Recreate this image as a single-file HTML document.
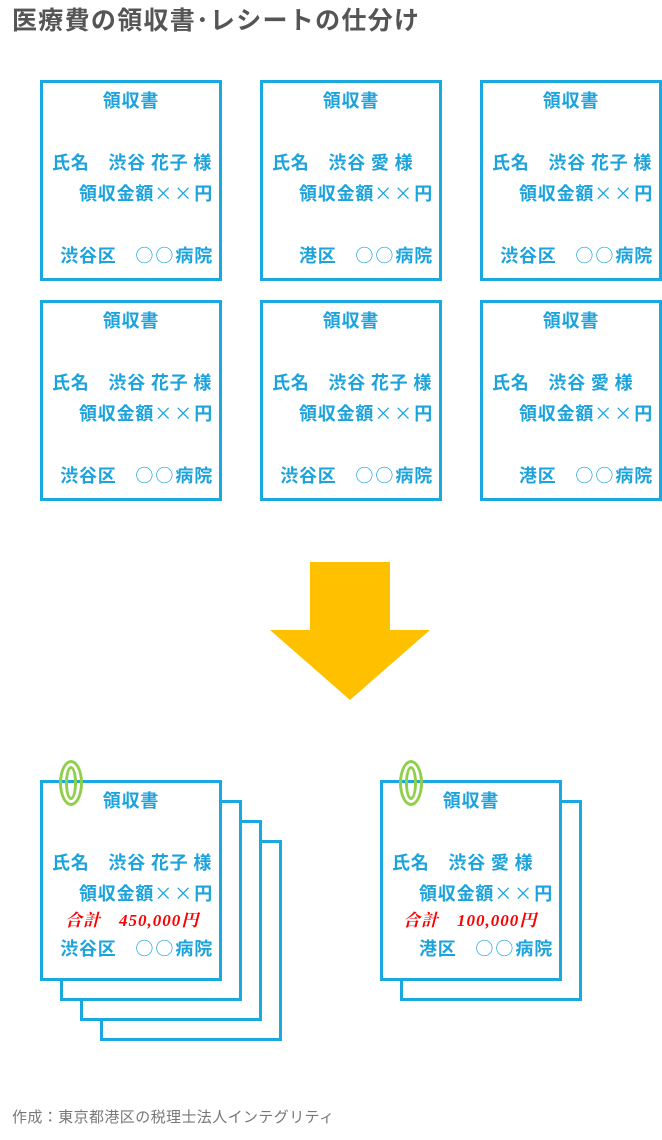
<!DOCTYPE html>
<html><head><meta charset="utf-8"><style>
html,body{margin:0;padding:0;background:#fff;}
body{width:662px;height:1140px;position:relative;overflow:hidden;font-family:"Liberation Sans","Noto Sans CJK JP",sans-serif;}
.t{position:absolute;left:12px;top:3px;font-size:25px;font-weight:bold;color:#555;letter-spacing:1.3px;white-space:nowrap;font-family:"Noto Sans CJK JP",sans-serif;line-height:32px;}
.f{position:absolute;left:12px;top:1106px;font-size:15px;color:#777;letter-spacing:0.4px;white-space:nowrap;line-height:22px;font-family:"Noto Sans CJK JP",sans-serif;}
.card{position:absolute;width:176px;height:195px;border:3px solid #1aa8e0;background:#fff;box-sizing:content-box;}
.card div{position:absolute;font-family:"Noto Sans CJK JP",sans-serif;font-weight:bold;font-size:18px;line-height:22px;color:#1ca3dc;white-space:pre;letter-spacing:0.8px;}
.ti{left:0;right:0;text-align:center;top:6px;}
.nm{left:9px;top:68px;}
.am{right:6px;top:99px;}
.bt{right:6px;top:161px;}
.bt2{right:6px;top:154px;}
.tot{top:127px;color:#f00 !important;font-family:"Liberation Serif","Noto Serif CJK SC",serif !important;font-style:italic;font-size:17px !important;letter-spacing:1px !important;}
.o{font-weight:normal;letter-spacing:2px;}
.clip{position:absolute;width:18px;height:40px;border:3px solid #8fcf4a;border-radius:50%;}
.clip::after{content:"";position:absolute;left:3px;top:3px;width:6px;height:28px;border:3px solid #8fcf4a;border-radius:50%;}
</style></head><body>
<div class="t">医療費の領収書･レシートの仕分け</div>

<div class="card" style="left:40px;top:80px"><div class="ti">領収書</div><div class="nm">氏名　渋谷 花子 様</div><div class="am">領収金額<span class="o">××</span>円</div><div class="bt">渋谷区　<span class="o">○○</span>病院</div></div>
<div class="card" style="left:260px;top:80px"><div class="ti">領収書</div><div class="nm">氏名　渋谷 愛 様</div><div class="am">領収金額<span class="o">××</span>円</div><div class="bt">港区　<span class="o">○○</span>病院</div></div>
<div class="card" style="left:480px;top:80px"><div class="ti">領収書</div><div class="nm">氏名　渋谷 花子 様</div><div class="am">領収金額<span class="o">××</span>円</div><div class="bt">渋谷区　<span class="o">○○</span>病院</div></div>
<div class="card" style="left:40px;top:300px"><div class="ti">領収書</div><div class="nm">氏名　渋谷 花子 様</div><div class="am">領収金額<span class="o">××</span>円</div><div class="bt">渋谷区　<span class="o">○○</span>病院</div></div>
<div class="card" style="left:260px;top:300px"><div class="ti">領収書</div><div class="nm">氏名　渋谷 花子 様</div><div class="am">領収金額<span class="o">××</span>円</div><div class="bt">渋谷区　<span class="o">○○</span>病院</div></div>
<div class="card" style="left:480px;top:300px"><div class="ti">領収書</div><div class="nm">氏名　渋谷 愛 様</div><div class="am">領収金額<span class="o">××</span>円</div><div class="bt">港区　<span class="o">○○</span>病院</div></div>

<svg style="position:absolute;left:0;top:0" width="662" height="1140">
<rect x="310" y="562" width="80" height="70" fill="#ffc000"/>
<polygon points="270,630 430,630 350,700" fill="#ffc000"/>
</svg>

<div class="card" style="left:100px;top:840px"></div>
<div class="card" style="left:80px;top:820px"></div>
<div class="card" style="left:60px;top:800px"></div>
<div class="card" style="left:40px;top:780px"><div class="ti">領収書</div><div class="nm">氏名　渋谷 花子 様</div><div class="am">領収金額<span class="o">××</span>円</div><div class="tot" style="left:22px">合計　450,000円</div><div class="bt2">渋谷区　<span class="o">○○</span>病院</div></div>
<div class="clip" style="left:59px;top:760px"></div>

<div class="card" style="left:400px;top:800px"></div>
<div class="card" style="left:380px;top:780px"><div class="ti">領収書</div><div class="nm">氏名　渋谷 愛 様</div><div class="am">領収金額<span class="o">××</span>円</div><div class="tot" style="left:20px">合計　100,000円</div><div class="bt2">港区　<span class="o">○○</span>病院</div></div>
<div class="clip" style="left:399px;top:760px"></div>

<div class="f">作成：東京都港区の税理士法人インテグリティ</div>
</body></html>
